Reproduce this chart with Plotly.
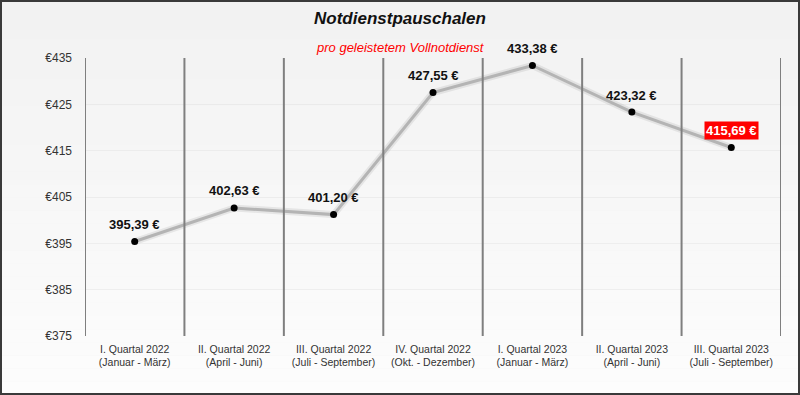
import plotly.graph_objects as go

categories = [
    "I. Quartal 2022<br>(Januar - März)",
    "II. Quartal 2022<br>(April - Juni)",
    "III. Quartal 2022<br>(Juli - September)",
    "IV. Quartal 2022<br>(Okt. - Dezember)",
    "I. Quartal 2023<br>(Januar - März)",
    "II. Quartal 2023<br>(April - Juni)",
    "III. Quartal 2023<br>(Juli - September)",
]
values = [395.39, 402.63, 401.20, 427.55, 433.38, 423.32, 415.69]
value_labels = ["395,39 €", "402,63 €", "401,20 €", "427,55 €", "433,38 €", "423,32 €", "415,69 €"]
y_ticks = [375, 385, 395, 405, 415, 425, 435]

W, H = 800, 395
ml, mr, mt, mb = 85, 19, 58, 59
pw, ph = W - ml - mr, H - mt - mb

fig = go.Figure()
x_idx = list(range(len(categories)))

# shadow line
fig.add_trace(go.Scatter(x=x_idx, y=values, mode="lines",
                         line=dict(color="rgba(0,0,0,0.07)", width=7),
                         hoverinfo="skip", showlegend=False))
fig.add_trace(go.Scatter(x=x_idx, y=values, mode="lines+markers",
                         line=dict(color="#b4b4b4", width=3),
                         marker=dict(color="black", size=7),
                         showlegend=False))

shapes = []
# background gradient
n = 30
for i in range(n):
    t = i / (n - 1)
    c = int(242 + (253 - 242) * t)
    yy1 = (H - i * H / n - mb) / ph
    yy0 = (H - (i + 1) * H / n - mb) / ph
    shapes.append(dict(type="rect", xref="paper", yref="paper",
                       x0=-ml / pw, x1=1 + mr / pw, y0=yy0, y1=yy1,
                       fillcolor=f"rgb({c},{c},{c})", line=dict(width=0), layer="below"))
# vertical separators
for b in range(len(categories) + 1):
    shapes.append(dict(type="line", xref="x", yref="paper",
                       x0=b - 0.5, x1=b - 0.5, y0=0, y1=1,
                       line=dict(color="#7f7f7f", width=2)))
# outer frame
shapes.append(dict(type="rect", xref="paper", yref="paper",
                   x0=-(ml - 1) / pw, x1=1 + (mr - 1) / pw,
                   y0=-(mb - 1) / ph, y1=1 + (mt - 1) / ph,
                   line=dict(color="#3a3a3a", width=2), fillcolor="rgba(0,0,0,0)"))

annotations = []
for i, (v, lab) in enumerate(zip(values, value_labels)):
    last = i == len(values) - 1
    annotations.append(dict(x=i, y=v, xref="x", yref="y", text=f"<b>{lab}</b>",
                            showarrow=False, yshift=17,
                            font=dict(family="Arial, Liberation Sans", size=13,
                                      color="white" if last else "#111"),
                            bgcolor="#ff0000" if last else None,
                            borderpad=1))
xc = (400 - ml) / pw
annotations.append(dict(xref="paper", yref="paper", x=xc, y=1 + 40 / ph, yanchor="middle",
                        text="<b><i>Notdienstpauschalen</i></b>", showarrow=False,
                        font=dict(family="Arial, Liberation Sans", size=17, color="#111")))
annotations.append(dict(xref="paper", yref="paper", x=xc, y=1 + 11 / ph, yanchor="middle",
                        text="<i>pro geleistetem Vollnotdienst</i>", showarrow=False,
                        font=dict(family="Arial, Liberation Sans", size=13, color="#ff0000")))

fig.update_layout(
    width=W, height=H,
    margin=dict(l=ml, r=mr, t=mt, b=mb),
    paper_bgcolor="#f3f3f3",
    plot_bgcolor="rgba(0,0,0,0)",
    shapes=shapes,
    annotations=annotations,
    xaxis=dict(tickmode="array", tickvals=x_idx, ticktext=categories,
               range=[-0.5, len(categories) - 0.5], showgrid=False, zeroline=False,
               tickfont=dict(family="Arial, Liberation Sans", size=10.5, color="#333"),
               ticks="", showline=False, ticklabelstandoff=5),
    yaxis=dict(range=[375, 435], tickvals=y_ticks, ticktext=[f"€{t}" for t in y_ticks],
               showgrid=True, gridcolor="rgba(0,0,0,0.04)", gridwidth=1, zeroline=False,
               tickfont=dict(family="Arial, Liberation Sans", size=12, color="#333"),
               ticks="", ticklen=0, showline=False, ticklabelstandoff=12),
    font=dict(family="Arial, Liberation Sans"),
)

fig.write_html("out.html", config={"displayModeBar": False},
               post_script="document.body.style.margin='0';document.body.style.padding='0';")
